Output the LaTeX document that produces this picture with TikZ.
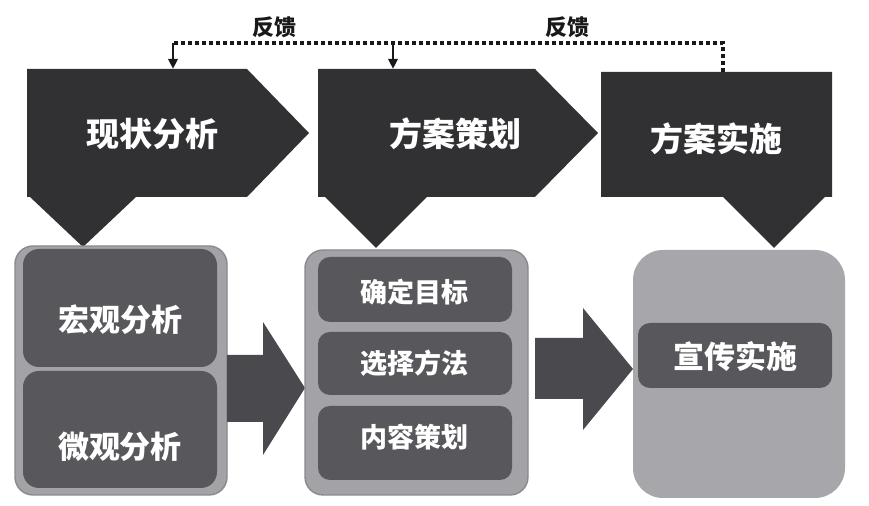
\documentclass[tikz,border=0pt]{standalone}
\usepackage{fontspec}
\newfontfamily\cjk{Noto Sans CJK SC}
\usetikzlibrary{arrows.meta}
\definecolor{stInk}{HTML}{313133}
\definecolor{stBox}{HTML}{58585C}
\definecolor{stWell}{HTML}{A3A3A7}
\definecolor{stRim}{HTML}{8A8A8E}
\definecolor{stPale}{HTML}{A7A7AB}
\definecolor{stArrow}{HTML}{4A4A4E}
\tikzset{
  stage/.style    ={fill=stInk},
  well/.style     ={fill=stWell,draw=stRim,line width=0.7pt,rounded corners=9pt},
  palewell/.style ={fill=stPale,rounded corners=15pt},
  subbox/.style   ={fill=stBox,rounded corners=6pt},
  bigarrow/.style ={fill=stArrow},
  stagelbl/.style ={text=white,font=\cjk\bfseries\fontsize{16.5}{18}\selectfont},
  sublbl/.style   ={text=white,font=\cjk\bfseries\fontsize{15.5}{17}\selectfont},
  smalllbl/.style ={text=white,font=\cjk\bfseries\fontsize{13.5}{15}\selectfont},
  fblbl/.style    ={text=black!90,font=\cjk\bfseries\fontsize{11}{12}\selectfont},
  fbline/.style   ={black!90,line width=1.9pt,dash pattern=on 1.9pt off 1.6pt},
  fbarrow/.style  ={-{Triangle[width=4.5pt,length=5pt]},black!90,line width=1.3pt},
}
\begin{document}
\begin{tikzpicture}[x=0.5pt,y=-0.5pt]
\useasboundingbox (0,0) rectangle (869,506);
% ── stages ─────────────────────────────────────────────────────────────────
\fill[stage] (27,69) -- (247,69) -- (309,133) -- (247,197) -- (136,197)
  -- (83,247) -- (30,197) -- (27,197) -- cycle;
\fill[stage] (318,69) -- (535,69) -- (598,133) -- (535,197) -- (427,197)
  -- (376,248) -- (325,197) -- (318,197) -- cycle;
\fill[stage] (601,72) -- (832,72) -- (832,197) -- (825,197)
  -- (774,248) -- (723,197) -- (601,197) -- cycle;
\node[stagelbl] (xz) at (152,134) {现状分析};
\node[stagelbl] (fa) at (455,134) {方案策划};
\node[stagelbl] (ss) at (716,139) {方案实施};

% ── feedback ───────────────────────────────────────────────────────────────
\coordinate (fbR)  at (723,72);
\coordinate (fbRt) at (723,43);
\coordinate (fbA)  at (173,43);
\coordinate (fbB)  at (393,43);
\coordinate (inA)  at (173,69);
\coordinate (inB)  at (393,69);
\draw[fbline] (fbR) -- (fbRt) -- (fbA);
\draw[fbarrow] (fbA) -- (inA);
\draw[fbarrow] (fbB) -- (inB);
\node[fblbl] (fb1) at (274,27) {反馈};
\node[fblbl] (fb2) at (567,27) {反馈};

% ── analysis ───────────────────────────────────────────────────────────────
\draw[well] (15,246) rectangle (227,495);
\fill[subbox,rounded corners=8pt] (23,249) rectangle (217,367);
\fill[subbox,rounded corners=8pt] (23,371) rectangle (217,488);
\node[sublbl] (hg) at (121,320) {宏观分析};
\node[sublbl] (wg) at (120,447) {微观分析};

\fill[bigarrow] (227,355) -- (263,355) -- (263,322) -- (305,388)
  -- (263,455) -- (263,422) -- (227,422) -- cycle;

% ── planning ───────────────────────────────────────────────────────────────
\draw[well] (305,250) rectangle (528,495);
\fill[subbox] (318,257) rectangle (512,322);
\fill[subbox] (318,332) rectangle (512,395);
\fill[subbox] (318,406) rectangle (512,480);
\node[smalllbl] (mb) at (414,292) {确定目标};
\node[smalllbl] (ff) at (414,363) {选择方法};
\node[smalllbl] (nr) at (414,437) {内容策划};

\fill[bigarrow] (535,338) -- (583,338) -- (583,308) -- (633,369)
  -- (583,430) -- (583,399) -- (535,399) -- cycle;

% ── execution ──────────────────────────────────────────────────────────────
\fill[palewell] (633,250) rectangle (845,498);
\fill[subbox] (638,323) rectangle (832,388);
\node[sublbl] (xc) at (735,357) {宣传实施};
\end{tikzpicture}
\end{document}
